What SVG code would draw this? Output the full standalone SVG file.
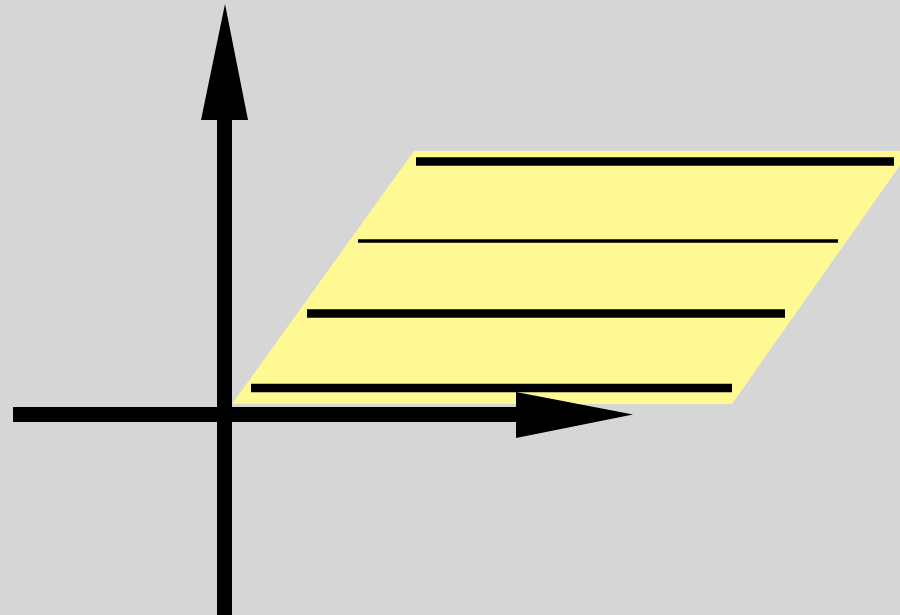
<svg xmlns="http://www.w3.org/2000/svg" width="900" height="615" viewBox="0 0 900 615">
<style>
.thick{stroke:#000;stroke-width:8.5;fill:none}
.thin{stroke:#000;stroke-width:3.5;fill:none}
.axis{stroke:#000;stroke-width:15;fill:none}
.head{fill:#000}
</style>
<rect width="900" height="615" fill="#d6d6d6"/>
<g id="plane">
<polygon points="232,404 414,151 910,151 732,404" fill="#fff994"/>
</g>
<g id="lines">
<line class="thick" x1="416" y1="161.5" x2="894" y2="161.5"/>
<line class="thin" x1="358" y1="241" x2="838" y2="241"/>
<line class="thick" x1="307" y1="313.5" x2="785" y2="313.5"/>
<line class="thick" x1="251" y1="388" x2="732" y2="388"/>
</g>
<g id="connectors">
<line class="axis" x1="13" y1="414.5" x2="520" y2="414.5"/>
<polygon class="head" points="516,392 633,414.5 516,438"/>
<line class="axis" x1="224.5" y1="615" x2="224.5" y2="115"/>
<polygon class="head" points="201,120 225,4 248,120"/>
</g>
</svg>
